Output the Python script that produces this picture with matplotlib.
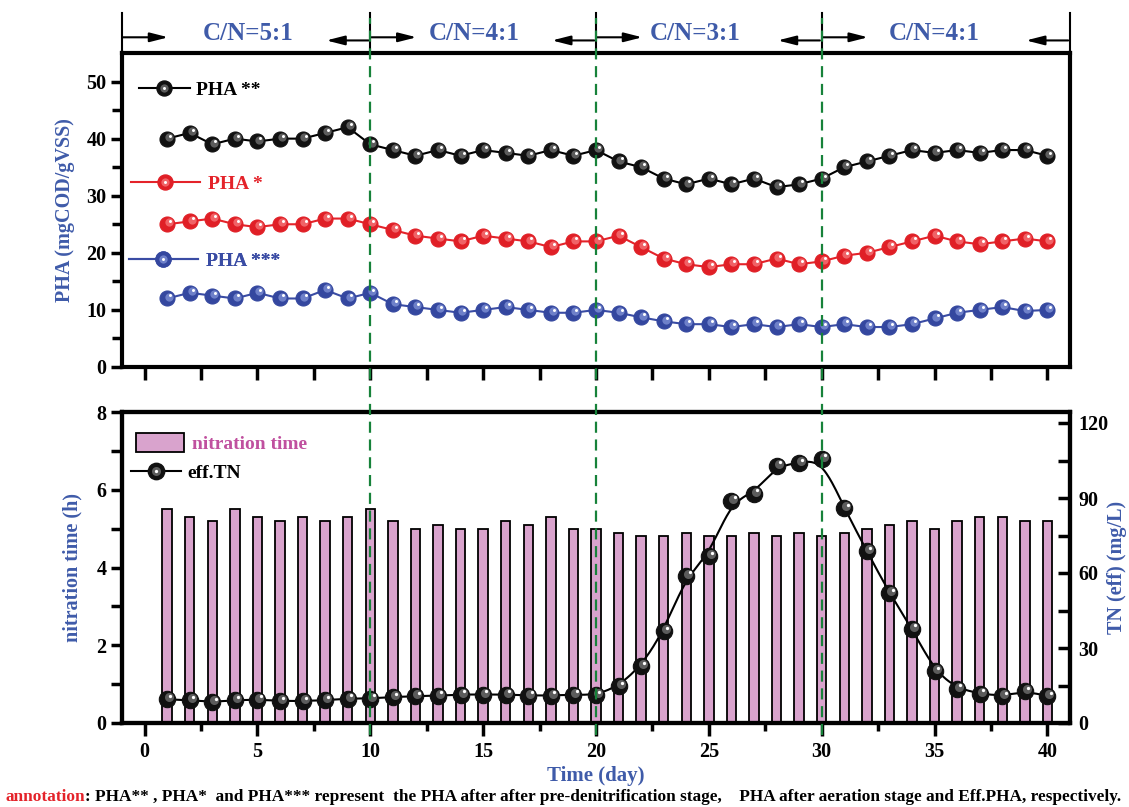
import numpy as np
import matplotlib
matplotlib.use("Agg")
import matplotlib.pyplot as plt
from matplotlib.lines import Line2D
from matplotlib.patches import Patch
from matplotlib.transforms import offset_copy, blended_transform_factory

plt.rcParams['font.family'] = ['Liberation Serif', 'DejaVu Serif']
plt.rcParams['font.weight'] = 'bold'
plt.rcParams['axes.labelweight'] = 'bold'

# DATA
days = np.arange(1, 41)

pha_pre = [40, 41, 39, 40, 39.5, 40, 40, 41, 42, 39,
           38, 37, 38, 37, 38, 37.5, 37, 38, 37, 38,
           36, 35, 33, 32, 33, 32, 33, 31.5, 32, 33,
           35, 36, 37, 38, 37.5, 38, 37.5, 38, 38, 37]
pha_aer = [25, 25.5, 26, 25, 24.5, 25, 25, 26, 26, 25,
           24, 23, 22.5, 22, 23, 22.5, 22, 21, 22, 22,
           23, 21, 19, 18, 17.5, 18, 18, 19, 18, 18.5,
           19.5, 20, 21, 22, 23, 22, 21.5, 22, 22.5, 22]
pha_eff = [12, 13, 12.5, 12, 13, 12, 12, 13.5, 12, 13,
           11, 10.5, 10, 9.5, 10, 10.5, 10, 9.5, 9.5, 10,
           9.5, 8.7, 8, 7.5, 7.5, 7, 7.5, 7, 7.5, 7,
           7.5, 7, 7, 7.5, 8.5, 9.5, 10, 10.5, 9.8, 10]

nitration_h = [5.5, 5.3, 5.2, 5.5, 5.3, 5.2, 5.3, 5.2, 5.3, 5.5,
               5.2, 5.0, 5.1, 5.0, 5.0, 5.2, 5.1, 5.3, 5.0, 5.0,
               4.9, 4.8, 4.8, 4.9, 4.8, 4.8, 4.9, 4.8, 4.9, 4.8,
               4.9, 5.0, 5.1, 5.2, 5.0, 5.2, 5.3, 5.3, 5.2, 5.2]
tn_eff = [9.5, 9.1, 8.4, 9.1, 9.4, 8.8, 8.8, 9.1, 9.8, 9.8,
          10.4, 10.7, 11.0, 11.4, 11.4, 11.4, 11.0, 11.0, 11.4, 11.1,
          14.8, 22.8, 36.7, 58.9, 66.8, 89.0, 91.7, 102.9, 104.0, 105.7,
          85.9, 68.8, 51.9, 37.8, 20.8, 13.8, 11.8, 10.7, 12.8, 10.8]

phase_labels = ['C/N=5:1', 'C/N=4:1', 'C/N=3:1', 'C/N=4:1']
phase_bounds = [10, 20, 30]
phase_label_x = [4.6, 14.6, 24.4, 35.0]

# colours
BLUE_TXT = '#3f5ba9'
RED = '#e4232a'
BLUE = '#3a4ca4'
PINK = '#d9a3cd'
PINK_TXT = '#c0509f'
GREEN = '#17823a'

XMIN, XMAX = -1, 41


def bspline(x, y, n=24):
    # uniform cubic B-spline, end points clamped
    px = np.r_[x[0], x[0], x, x[-1], x[-1]].astype(float)
    py = np.r_[y[0], y[0], y, y[-1], y[-1]].astype(float)
    t = np.linspace(0, 1, n, endpoint=False)
    b0 = (1 - t) ** 3 / 6
    b1 = (3 * t ** 3 - 6 * t ** 2 + 4) / 6
    b2 = (-3 * t ** 3 + 3 * t ** 2 + 3 * t + 1) / 6
    b3 = t ** 3 / 6
    xs, ys = [], []
    for i in range(len(px) - 3):
        xs.append(b0 * px[i] + b1 * px[i + 1] + b2 * px[i + 2] + b3 * px[i + 3])
        ys.append(b0 * py[i] + b1 * py[i + 1] + b2 * py[i + 2] + b3 * py[i + 3])
    return np.r_[np.concatenate(xs), x[-1]], np.r_[np.concatenate(ys), y[-1]]


def balls(ax, x, y, base, light, ms, z=3):
    # shaded ball markers: dark body, soft glow and a white spot
    ax.plot(x, y, 'o', ms=ms, mfc=base, mec=base, mew=0.8, ls='none', zorder=z)
    tr = offset_copy(ax.transData, fig=ax.figure, x=ms * 0.12, y=ms * 0.12, units='points')
    ax.plot(x, y, 'o', ms=ms * 0.55, mfc=light, mec='none', alpha=0.55, ls='none',
            transform=tr, zorder=z + 0.1)
    tr2 = offset_copy(ax.transData, fig=ax.figure, x=ms * 0.2, y=ms * 0.2, units='points')
    ax.plot(x, y, 'o', ms=ms * 0.2, mfc='white', mec='none', ls='none',
            transform=tr2, zorder=z + 0.2)


def ball_handle(line_col, base, light, ms):
    return (Line2D([], [], color=line_col, lw=1.5, marker='o', ms=ms, mfc=base, mec=base),
            Line2D([], [], ls='none', marker='o', ms=ms * 0.55, mfc=light, mec='none', alpha=0.55),
            Line2D([], [], ls='none', marker='o', ms=ms * 0.2, mfc='white', mec='none'))


fig = plt.figure(figsize=(11.29, 8.07), dpi=100)
W, H = 1129, 807
ax1 = fig.add_axes([122 / W, 1 - 367 / H, 948 / W, 314 / H])
axb = fig.add_axes([122 / W, 1 - 723 / H, 948 / W, 311 / H])
axb.set_facecolor('none')

# ---- top panel: PHA ----
ms_top = 10.8
ax1.plot(days, pha_pre, '-', color='black', lw=1.5, zorder=2)
ax1.plot(days, pha_aer, '-', color=RED, lw=1.5, zorder=2)
ax1.plot(days, pha_eff, '-', color=BLUE, lw=1.5, zorder=2)
balls(ax1, days, pha_pre, '#111111', '#9a9a9a', ms_top)
balls(ax1, days, pha_aer, '#e01f26', '#ff9a9c', ms_top)
balls(ax1, days, pha_eff, '#34479f', '#9fb0ec', ms_top)

ax1.set_xlim(XMIN, XMAX)
ax1.set_ylim(0, 55)
ax1.set_yticks([0, 10, 20, 30, 40, 50])
ax1.set_yticks([5, 15, 25, 35, 45], minor=True)
ax1.set_xticks(range(0, 41, 5))
ax1.set_xticks(np.arange(2.5, 40, 5), minor=True)
ax1.tick_params(axis='x', which='both', direction='out', labelbottom=False,
                length=9, width=2.5)
ax1.tick_params(axis='y', which='major', direction='out', length=8, width=2.5,
                labelsize=14.5, pad=3)
ax1.tick_params(axis='y', which='minor', direction='out', length=7, width=2.5)
for s in ax1.spines.values():
    s.set_linewidth(3)
ax1.set_ylabel('PHA (mgCOD/gVSS)', color=BLUE_TXT, fontsize=14.5, va='center')
ax1.yaxis.set_label_coords(-0.060, 0.5)

leg_specs = [('PHA **', 'black', '#111111', '#9a9a9a', 'black', 0.018, 0.882, 2.6, 0.35),
             ('PHA *', RED, '#e01f26', '#ff9a9c', RED, 0.009, 0.583, 3.55, 0.45),
             ('PHA ***', BLUE, '#34479f', '#9fb0ec', BLUE, 0.007, 0.338, 3.55, 0.45)]
for lab, lc, base, light, tc, lx, ly, hl, hp in leg_specs:
    lg = ax1.legend([ball_handle(lc, base, light, ms_top)], [lab], loc='center left',
                    bbox_to_anchor=(lx, ly), frameon=False, borderpad=0, borderaxespad=0,
                    handlelength=hl, handletextpad=hp, fontsize=14, labelcolor=tc)
    ax1.add_artist(lg)

# header above the top panel: phase separators, arrows, labels
hdr = blended_transform_factory(ax1.transData, ax1.transAxes)
edges = [XMIN] + phase_bounds + [XMAX]
for xb in edges:
    ax1.plot([xb, xb], [1.0, 1.128], color='black', lw=1.5, transform=hdr, clip_on=False)
arrow_style = dict(arrowstyle='-|>,head_length=0.55,head_width=0.14', mutation_scale=20,
                   lw=1.5, color='black', shrinkA=0, shrinkB=0)
for i, lab in enumerate(phase_labels):
    a, b = edges[i], edges[i + 1]
    ax1.annotate('', xy=(a + 2.05, 1.05), xytext=(a + 0.05, 1.05), xycoords=hdr,
                 textcoords=hdr, annotation_clip=False, arrowprops=arrow_style)
    ax1.annotate('', xy=(b - 1.95, 1.04), xytext=(b - 0.08, 1.04), xycoords=hdr,
                 textcoords=hdr, annotation_clip=False, arrowprops=arrow_style)
    ax1.text(phase_label_x[i], 1.063, lab, transform=hdr, ha='center', va='center',
             color=BLUE_TXT, fontsize=18)

# ---- bottom panel: nitration time + effluent TN ----
axb.bar(days, nitration_h, width=0.42, color=PINK, edgecolor='black', lw=1.3, zorder=2)
axb.set_xlim(XMIN, XMAX)
axb.set_ylim(0, 8)
axb.set_yticks([0, 2, 4, 6, 8])
axb.set_yticks([1, 3, 5, 7], minor=True)
axb.set_xticks(range(0, 41, 5))
axb.set_xticks(np.arange(2.5, 40, 5), minor=True)
axb.tick_params(axis='x', which='major', direction='out', length=9, width=2.5,
                labelsize=14.5, pad=5)
axb.tick_params(axis='x', which='minor', direction='out', length=6, width=2.5)
axb.tick_params(axis='y', which='both', direction='out', length=8, width=2.5,
                labelsize=14.5, pad=3)
for s in axb.spines.values():
    s.set_linewidth(3)
axb.set_ylabel('nitration time (h)', color=BLUE_TXT, fontsize=14.5, va='center')
axb.yaxis.set_label_coords(-0.052, 0.5)
axb.set_xlabel('Time (day)', color=BLUE_TXT, fontsize=15, va='center')
axb.xaxis.set_label_coords(0.5, -0.17)

ax2 = axb.twinx()
ax2.set_ylim(0, 124.4)
ax2.set_yticks([0, 30, 60, 90, 120])
ax2.set_yticks([15, 45, 75, 105], minor=True)
ax2.tick_params(axis='y', which='both', direction='in', length=9, width=2.5,
                labelsize=14.5, pad=6)
for s in ax2.spines.values():
    s.set_linewidth(3)
sx, sy = bspline(days, tn_eff)
ax2.plot(sx, sy, '-', color='black', lw=1.5, zorder=2)
balls(ax2, days, tn_eff, '#111111', '#9a9a9a', 11.8)
ax2.set_ylabel('TN (eff) (mg/L)', color=BLUE_TXT, fontsize=14.5, va='center')
ax2.yaxis.set_label_coords(1.0496, 0.5)

lg1 = ax2.legend([Patch(facecolor=PINK, edgecolor='black', lw=1.3)], ['nitration time'],
                 loc='center left', bbox_to_anchor=(0.015, 0.900), frameon=False,
                 borderpad=0, borderaxespad=0, handlelength=2.45, handleheight=1.15,
                 handletextpad=0.4, fontsize=14, labelcolor=PINK_TXT)
ax2.add_artist(lg1)
ax2.legend([ball_handle('black', '#111111', '#9a9a9a', 11.8)], ['eff.TN'],
           loc='center left', bbox_to_anchor=(0.009, 0.804), frameon=False,
           borderpad=0, borderaxespad=0, handlelength=2.6, handletextpad=0.3,
           fontsize=14, labelcolor='black')

# dashed phase dividers through both panels
vtr = blended_transform_factory(ax1.transData, fig.transFigure)
for xb in phase_bounds:
    fig.add_artist(Line2D([xb, xb], [1 - 735 / H, 1 - 18 / H], transform=vtr,
                          color=GREEN, lw=1.6, ls=(0, (5, 3)), zorder=10))

# footnote
t0 = fig.text(5 / W, 1 - 797 / H, 'annotation', color=RED, fontsize=12.4,
              ha='left', va='center')
axb.annotate(': PHA** , PHA*  and PHA*** represent  the PHA after after '
             'pre-denitrification stage,    PHA after aeration stage and Eff.PHA, '
             'respectively.', xy=(1, 0.5), xycoords=t0, ha='left', va='center',
             fontsize=12.4, color='black', annotation_clip=False)

fig.savefig('out.png', dpi=100)
